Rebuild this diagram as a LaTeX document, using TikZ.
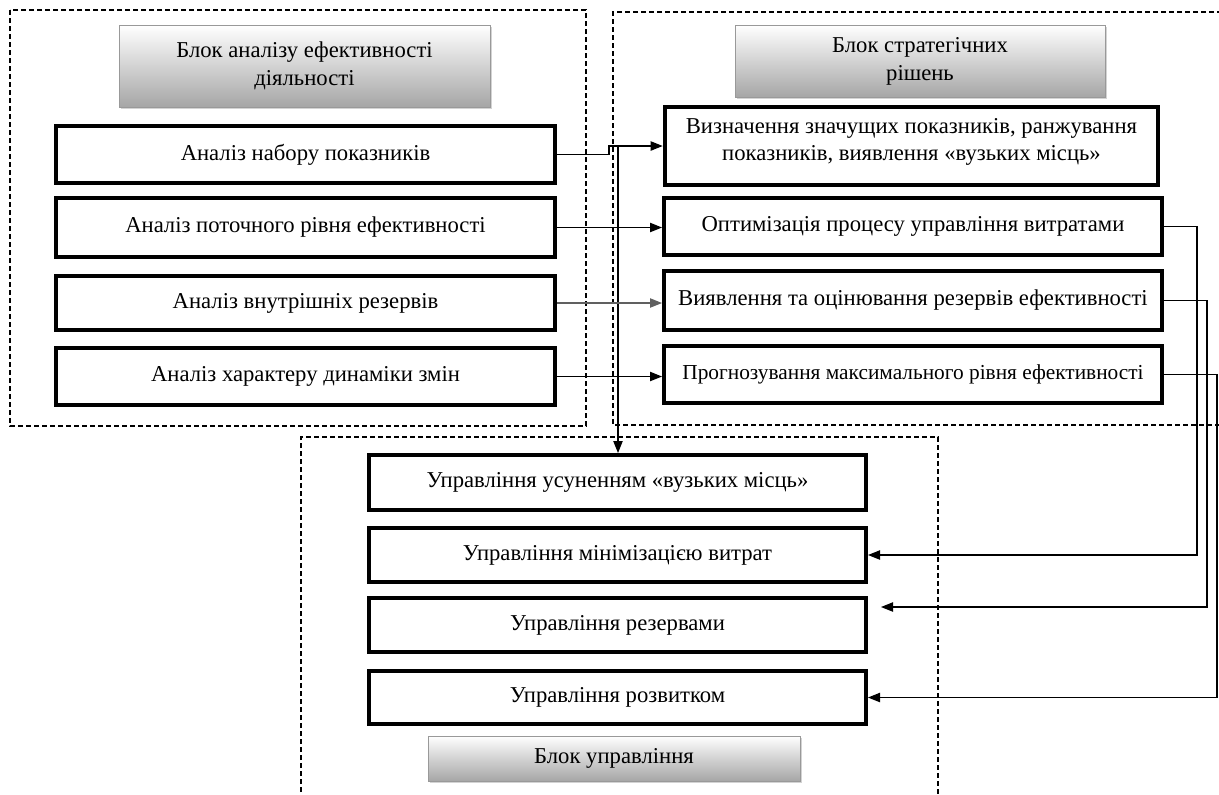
\documentclass[tikz,border=0pt]{standalone}
\usepackage{fontspec}
\setmainfont{Liberation Serif}
\usetikzlibrary{fit,shadows,arrows.meta}
\begin{document}
\begin{tikzpicture}[x=0.75pt,y=-0.75pt,
  frame/.style={draw, line width=0.8pt, dash pattern=on 3.5pt off 2.5pt},
  bx/.style={draw, line width=3pt, fill=white, inner sep=0pt},
  ttl/.style={draw=gray!80, line width=0.6pt, top color=white, bottom color=gray!70, inner sep=0pt,
     drop shadow={shadow xshift=1.5pt, shadow yshift=-1.5pt, opacity=0.35}},
  txt/.style={align=center, inner sep=0pt, font=\fontsize{17}{20.5}\selectfont},
  ttxt/.style={align=center, inner sep=0pt, font=\fontsize{17}{21}\selectfont},
  con/.style={draw, line width=0.9pt},
  arr/.style={con, -{Triangle[length=9pt,width=7pt]}}]
\useasboundingbox (0,0) rectangle (1219,794);
% dashed frames
\draw[frame] (10,10) rectangle (586,426);
\draw[frame] (1222,12) -- (613,12) -- (613,425) -- (1222,425);
\draw[frame] (301,800) -- (301,437) -- (938,437) -- (938,800);
% titles
\node[ttl, fit={(119,25)(490,107)}] (t1) {};
\node[ttxt] (t1t) at (t1) {Блок аналізу ефективності\\діяльності};
\node[ttl, fit={(735,25)(1105,97)}] (t2) {};
\node[ttxt] (t2t) at (t2) {Блок стратегічних\\рішень};
\node[ttl, fit={(428,736)(800,781)}] (t3) {};
\node[ttxt] (t3t) at (t3) {Блок управління};
% left boxes
\node[bx, fit={(56,126)(555,183)}] (a1) {};
\node[txt] (a1t) at (a1) {Аналіз набору показників};
\node[bx, fit={(56,198)(555,257)}] (a2) {};
\node[txt] (a2t) at (a2) {Аналіз поточного рівня ефективності};
\node[bx, fit={(56,276)(555,330)}] (a3) {};
\node[txt] (a3t) at (a3) {Аналіз внутрішніх резервів};
\node[bx, fit={(56,348)(555,405)}] (a4) {};
\node[txt] (a4t) at (a4) {Аналіз характеру динаміки змін};
% right boxes
\node[bx, line width=3.5pt, fit={(665,107)(1158,185)}] (s1) {};
\node[txt, yshift=3pt] (s1t) at (s1) {Визначення значущих показників, ранжування\\показників, виявлення «вузьких місць»};
\node[bx, fit={(664,198)(1162,255)}] (s2) {};
\node[txt] (s2t) at (s2) {Оптимізація процесу управління витратами};
\node[bx, fit={(664,271)(1162,330)}] (s3) {};
\node[txt] (s3t) at (s3) {Виявлення та оцінювання резервів ефективності};
\node[bx, fit={(664,346)(1162,403)}] (s4) {};
\node[txt, font=\fontsize{16}{20}\selectfont] (s4t) at (s4) {Прогнозування максимального рівня ефективності};
% bottom boxes
\node[bx, fit={(369,455)(866,510)}] (m1) {};
\node[txt] (m1t) at (m1) {Управління усуненням «вузьких місць»};
\node[bx, fit={(369,528)(866,582)}] (m2) {};
\node[txt] (m2t) at (m2) {Управління мінімізацією витрат};
\node[bx, fit={(369,598)(866,652)}] (m3) {};
\node[txt] (m3t) at (m3) {Управління резервами};
\node[bx, fit={(369,671)(866,724)}] (m4) {};
\node[txt] (m4t) at (m4) {Управління розвитком};
% connectors
\coordinate (j1) at (609,146);
\coordinate (j2) at (618,146);
\draw[arr] (a1.east) -| (j1) -- (j1 -| s1.west);
\draw[arr] (j2) -- (j2 |- m1.north);
\draw[arr] (a2.east) -- (a2.east -| s2.west);
\draw[arr, draw=gray!75!black] (a3.east) -- (a3.east -| s3.west);
\draw[arr] (a4.east) -- (a4.east -| s4.west);
\coordinate (r1) at (1197,0);
\coordinate (r2) at (1207,0);
\coordinate (r3) at (1217,0);
\coordinate (e3) at (881,607);
\draw[arr] (s2.east) -| (r1 |- m2.east) -- (m2.east);
\draw[arr] (s3.east) -| (r2 |- e3) -- (e3);
\draw[arr] (s4.east) -| (r3 |- m4.east) -- (m4.east);
\end{tikzpicture}
\end{document}
